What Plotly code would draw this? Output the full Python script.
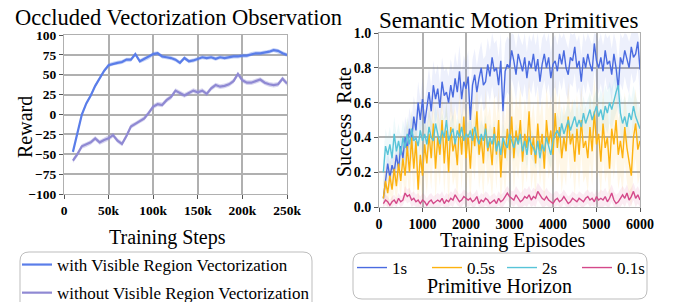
import numpy as np
import plotly.graph_objects as go

# ---------------- data: left panel ----------------
steps_k = list(range(10, 251, 5))  # thousands of training steps
reward_with = [-47, -22, 0, 14, 24, 36, 46, 55, 62, 64, 65, 66, 69, 69, 76, 67, 70, 72, 76, 77,
               73, 72, 71, 69, 65, 71, 67, 68, 70, 72, 71, 72, 70, 72, 71, 72, 73, 73, 74, 74,
               76, 77, 77, 78, 79, 81, 80, 77, 75]
reward_without = [-58, -50, -40, -38, -35, -30, -35, -32, -30, -26, -33, -37, -27, -15, -12, -8, -5, 2, 10, 13,
                  12, 18, 22, 30, 27, 24, 27, 30, 28, 30, 26, 33, 37, 35, 36, 38, 42, 51, 43, 40,
                  40, 42, 44, 40, 38, 37, 38, 45, 39]
spread_with = 2.5
spread_without = 3.0
left_xticks = [0, 50, 100, 150, 200, 250]
left_xticklabels = ["0", "50k", "100k", "150k", "200k", "250k"]
left_yticks = [-100, -75, -50, -25, 0, 25, 50, 75, 100]
left_yticklabels = ["\u2212100", "\u221275", "\u221250", "\u221225", "0", "25", "50", "75", "100"]

# ---------------- data: right panel ----------------
episodes = list(range(100, 6001, 50))
sr_1s = [0.05, 0.14, 0.25, 0.17, 0.24, 0.20, 0.30, 0.22, 0.35, 0.28,
         0.40, 0.33, 0.45, 0.38, 0.52, 0.44, 0.60, 0.50, 0.62, 0.48,
         0.58, 0.66, 0.55, 0.70, 0.62, 0.68, 0.57, 0.72, 0.64, 0.66,
         0.60, 0.70, 0.63, 0.74, 0.66, 0.78, 0.62, 0.72, 0.68, 0.75,
         0.50, 0.70, 0.76, 0.66, 0.74, 0.80, 0.70, 0.72, 0.82, 0.75,
         0.86, 0.78, 0.80, 0.70, 0.84, 0.55, 0.78, 0.82, 0.80, 0.90,
         0.84, 0.76, 0.88, 0.82, 0.78, 0.86, 0.74, 0.84, 0.80, 0.88,
         0.78, 0.85, 0.72, 0.82, 0.88, 0.80, 0.86, 0.74, 0.82, 0.84,
         0.78, 0.88, 0.82, 0.90, 0.80, 0.76, 0.86, 0.84, 0.92, 0.80,
         0.84, 0.72, 0.86, 0.80, 0.88, 0.82, 0.78, 0.94, 0.84, 0.80,
         0.86, 0.78, 0.90, 0.82, 0.84, 0.76, 0.88, 0.80, 0.68, 0.86,
         0.82, 0.90, 0.84, 0.80, 0.92, 0.86, 0.88, 0.95, 0.79]
sr_05s = [0.05, 0.15, 0.08, 0.18, 0.10, 0.22, 0.12, 0.25, 0.15, 0.28,
          0.18, 0.35, 0.20, 0.40, 0.22, 0.38, 0.10, 0.30, 0.18, 0.36,
          0.25, 0.42, 0.28, 0.48, 0.22, 0.40, 0.30, 0.50, 0.25, 0.44,
          0.20, 0.46, 0.32, 0.38, 0.24, 0.48, 0.30, 0.52, 0.28, 0.42,
          0.22, 0.45, 0.35, 0.55, 0.30, 0.40, 0.25, 0.48, 0.32, 0.38,
          0.24, 0.46, 0.30, 0.50, 0.17, 0.40, 0.28, 0.45, 0.33, 0.52,
          0.28, 0.44, 0.36, 0.50, 0.26, 0.42, 0.34, 0.55, 0.30, 0.40,
          0.25, 0.48, 0.32, 0.42, 0.22, 0.50, 0.36, 0.44, 0.30, 0.54,
          0.34, 0.46, 0.28, 0.40, 0.32, 0.52, 0.36, 0.42, 0.26, 0.45,
          0.30, 0.50, 0.34, 0.38, 0.28, 0.46, 0.32, 0.55, 0.36, 0.42,
          0.26, 0.48, 0.34, 0.40, 0.22, 0.45, 0.36, 0.50, 0.30, 0.38,
          0.28, 0.46, 0.34, 0.26, 0.18, 0.40, 0.48, 0.33, 0.38]
sr_2s = [0.20, 0.35, 0.30, 0.36, 0.28, 0.42, 0.32, 0.38, 0.30, 0.40,
         0.34, 0.42, 0.36, 0.45, 0.38, 0.40, 0.35, 0.44, 0.38, 0.42,
         0.36, 0.46, 0.40, 0.38, 0.48, 0.42, 0.36, 0.44, 0.40, 0.50,
         0.38, 0.42, 0.45, 0.36, 0.44, 0.40, 0.46, 0.38, 0.42, 0.40,
         0.44, 0.38, 0.46, 0.40, 0.36, 0.42, 0.38, 0.45, 0.34, 0.40,
         0.36, 0.42, 0.32, 0.38, 0.30, 0.40, 0.36, 0.34, 0.42, 0.38,
         0.34, 0.40, 0.36, 0.42, 0.32, 0.38, 0.30, 0.40, 0.36, 0.34,
         0.30, 0.38, 0.28, 0.36, 0.32, 0.40, 0.34, 0.30, 0.38, 0.42,
         0.44, 0.40, 0.48, 0.42, 0.46, 0.50, 0.44, 0.48, 0.52, 0.46,
         0.50, 0.46, 0.54, 0.48, 0.52, 0.56, 0.50, 0.54, 0.58, 0.52,
         0.56, 0.50, 0.58, 0.54, 0.60, 0.56, 0.62, 0.66, 0.70, 0.54,
         0.48, 0.52, 0.46, 0.54, 0.50, 0.58, 0.52, 0.48, 0.45]
sr_01s = [0.02, 0.04, 0.03, 0.01, 0.03, 0.04, 0.02, 0.05, 0.03, 0.04,
          0.08, 0.06, 0.07, 0.04, 0.05, 0.03, 0.04, 0.02, 0.04, 0.03,
          0.01, 0.03, 0.04, 0.02, 0.03, 0.04, 0.03, 0.05, 0.02, 0.04,
          0.03, 0.05, 0.04, 0.07, 0.05, 0.03, 0.04, 0.06, 0.05, 0.04,
          0.05, 0.03, 0.04, 0.06, 0.02, 0.04, 0.03, 0.05, 0.04, 0.02,
          0.03, 0.04, 0.02, 0.05, 0.03, 0.04, 0.06, 0.08, 0.06, 0.05,
          0.04, 0.07, 0.05, 0.03, 0.04, 0.06, 0.05, 0.07, 0.04, 0.06,
          0.05, 0.09, 0.07, 0.05, 0.04, 0.06, 0.04, 0.03, 0.02, 0.04,
          0.05, 0.03, 0.04, 0.06, 0.04, 0.02, 0.03, 0.05, 0.04, 0.03,
          0.05, 0.04, 0.03, 0.05, 0.06, 0.04, 0.05, 0.03, 0.06, 0.04,
          0.05, 0.04, 0.06, 0.03, 0.05, 0.08, 0.04, 0.02, 0.03, 0.05,
          0.07, 0.05, 0.08, 0.04, 0.06, 0.09, 0.05, 0.07, 0.04]
# band half-widths per 500-episode block
spread_1s = [0.08, 0.12, 0.14, 0.15, 0.15, 0.16, 0.15, 0.15, 0.15, 0.15, 0.15, 0.15]
spread_05s = [0.10, 0.16, 0.18, 0.20, 0.20, 0.20, 0.20, 0.20, 0.20, 0.20, 0.20, 0.20]
spread_2s = [0.10, 0.10, 0.10, 0.08, 0.08, 0.08, 0.08, 0.08, 0.10, 0.10, 0.12, 0.12]
spread_01s = [0.03, 0.04, 0.04, 0.04, 0.04, 0.04, 0.05, 0.05, 0.04, 0.04, 0.05, 0.05]
right_xticks = [0, 1000, 2000, 3000, 4000, 5000, 6000]
right_xticklabels = ["0", "1000", "2000", "3000", "4000", "5000", "6000"]
right_yticks = [0.0, 0.2, 0.4, 0.6, 0.8, 1.0]
right_yticklabels = ["0.0", "0.2", "0.4", "0.6", "0.8", "1.0"]

# The page body has an 8px margin, so the figure is offset by (8, 8) in the window.
OFF = 8
W, H = 680 - OFF, 302 - OFF
def px(x):
    return (x - OFF) / W
def py(y):
    return 1 - (y - OFF) / H

SERIF = "Liberation Serif, Times New Roman, serif"

fig = go.Figure()

def add_band(x, y, s, color, opacity, xa, ya, lo=None, hi=None):
    y = np.asarray(y, float)
    s = np.asarray(s, float)
    up = y + s
    dn = y - s
    if lo is not None:
        dn = np.clip(dn, lo, hi)
        up = np.clip(up, lo, hi)
    xs = list(x) + list(x)[::-1]
    ys = list(up) + list(dn)[::-1]
    fig.add_trace(go.Scatter(x=xs, y=ys, fill="toself", fillcolor=color, opacity=opacity,
                             line=dict(width=0), mode="lines", showlegend=False,
                             hoverinfo="skip", xaxis=xa, yaxis=ya))

# left panel
c_with = "#5a7de9"
c_without = "#8f89d3"
add_band(steps_k, reward_with, [spread_with] * len(steps_k), c_with, 0.35, "x", "y")
add_band(steps_k, reward_without, [spread_without] * len(steps_k), c_without, 0.35, "x", "y")
fig.add_trace(go.Scatter(x=steps_k, y=reward_with, mode="lines", line=dict(color=c_with, width=2.2),
                         name="with Visible Region Vectorization", legend="legend", legendgroup="a",
                         xaxis="x", yaxis="y"))
fig.add_trace(go.Scatter(x=steps_k, y=reward_without, mode="lines", line=dict(color=c_without, width=2.2),
                         name="without Visible Region Vectorization", legend="legend", legendgroup="b",
                         xaxis="x", yaxis="y"))

# right panel
series = [("1s", sr_1s, spread_1s, "#4a6be0"),
          ("0.5s", sr_05s, spread_05s, "#fdb20f"),
          ("2s", sr_2s, spread_2s, "#58c4d8"),
          ("0.1s", sr_01s, spread_01s, "#d4498a")]
for name, vals, spr, col in series:
    s_full = np.repeat(spr, 10)[:len(episodes)]
    add_band(episodes, vals, s_full, col, 0.10, "x2", "y2", 0.0, 1.0)
for name, vals, spr, col in series:
    fig.add_trace(go.Scatter(x=episodes, y=vals, mode="lines", line=dict(color=col, width=1.4),
                             name=name, legend="legend2", xaxis="x2", yaxis="y2"))

def axis_style(size):
    return dict(showgrid=True, gridcolor="#b0b0b0", gridwidth=2, showline=True,
                linecolor="#b0b0b0", linewidth=1, mirror=True, ticks="outside", ticklen=4,
                tickcolor="#555555", zeroline=False, tickmode="array",
                tickfont=dict(family=SERIF, size=size, color="black", weight="bold"))

def bold(labels):
    return [f"<b>{t}</b>" for t in labels]

fig.update_layout(
    width=W, height=H, margin=dict(l=0, r=0, t=0, b=0, autoexpand=False),
    paper_bgcolor="white", plot_bgcolor="white", hovermode=False,
    xaxis=dict(domain=[px(64), px(287)], range=[0, 250], tickvals=left_xticks,
               ticktext=bold(left_xticklabels), anchor="y", **axis_style(13.5)),
    yaxis=dict(domain=[py(194), py(35)], range=[-100, 100], tickvals=left_yticks,
               ticktext=bold(left_yticklabels), anchor="x", **axis_style(13.5)),
    xaxis2=dict(domain=[px(379), px(640)], range=[0, 6000], tickvals=right_xticks,
                ticktext=bold(right_xticklabels), anchor="y2", **axis_style(14)),
    yaxis2=dict(domain=[py(207), py(33)], range=[0, 1], tickvals=right_yticks,
                ticktext=bold(right_yticklabels), anchor="x2", **axis_style(14)),
    legend=dict(x=px(17), y=py(247), xanchor="left", yanchor="top", bgcolor="rgba(0,0,0,0)",
                font=dict(family=SERIF, size=17, color="black"), traceorder="grouped",
                tracegroupgap=3),
    legend2=dict(x=px(352), y=py(250), xanchor="left", yanchor="top", orientation="h",
                 bgcolor="rgba(0,0,0,0)", font=dict(family=SERIF, size=17, color="black"),
                 entrywidth=30),
)

def rounded(x0, y0, x1, y1, r):
    X0, X1 = px(x0), px(x1)
    Y0, Y1 = py(y0), py(y1)
    rx, ry = r / W, r / H
    return (f"M{X0+rx},{Y0} L{X1-rx},{Y0} Q{X1},{Y0} {X1},{Y0-ry} "
            f"L{X1},{Y1+ry} Q{X1},{Y1} {X1-rx},{Y1} L{X0+rx},{Y1} Q{X0},{Y1} {X0},{Y1+ry} "
            f"L{X0},{Y0-ry} Q{X0},{Y0} {X0+rx},{Y0} Z")

fig.add_shape(type="path", path=rounded(20, 252, 312, 316, 9), xref="paper", yref="paper",
              line=dict(color="#bdbdbd", width=1))
fig.add_shape(type="path", path=rounded(353, 253, 647, 299, 9), xref="paper", yref="paper",
              line=dict(color="#bdbdbd", width=1))

def text(t, x, y, size, angle=0):
    fig.add_annotation(text=t, x=px(x), y=py(y), xref="paper", yref="paper", showarrow=False,
                       xanchor="center", yanchor="middle", textangle=angle,
                       font=dict(family=SERIF, size=size, color="black"))

text("Occluded Vectorization Observation", 178, 17, 22.5)
text("Semantic Motion Primitives", 508, 20, 23)
text("Reward", 25, 127, 20, -90)
text("Success  Rate", 344, 122, 20, -90)
text("Training Steps", 167, 237, 20)
text("Training Episodes", 513, 240, 20)
text("Primitive Horizon", 500, 286, 20)

fig.write_html("out.html")
